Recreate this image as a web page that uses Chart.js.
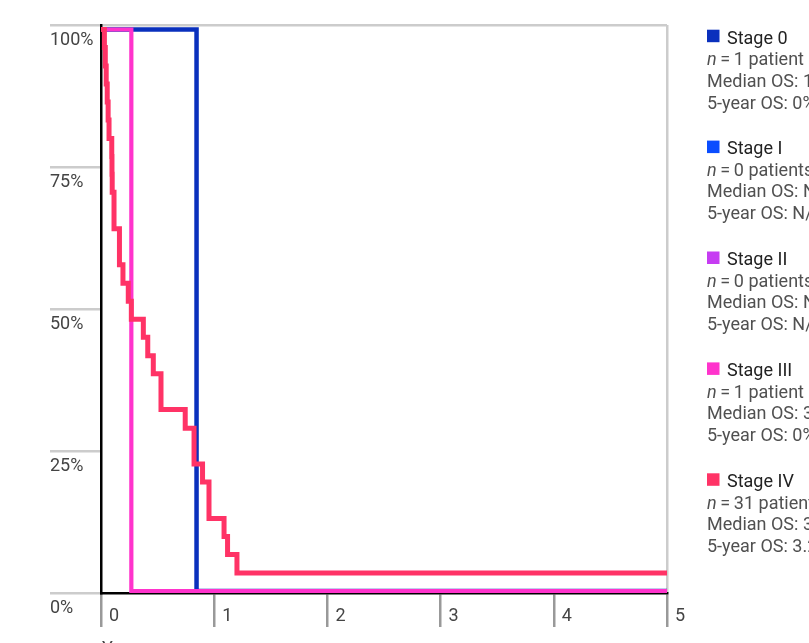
<!DOCTYPE html>
<html>
<head>
<meta charset="utf-8">
<script src="https://cdn.jsdelivr.net/npm/chart.js@4.4.0/dist/chart.umd.min.js"></script>
<style>
  html, body { margin: 0; padding: 0; background: #fff; overflow: hidden; }
  canvas { display: block; }
</style>
</head>
<body>
<canvas id="km" width="809" height="643"></canvas>
<script>
// Kaplan–Meier overall survival by stage (years since diagnosis, % surviving)
const stageLabels = ['Stage 0', 'Stage I', 'Stage II', 'Stage III', 'Stage IV'];
const stageColors = ['#0a30bd', '#0a4dff', '#c63cf2', '#ff33cc', '#ff3366'];
const patientCounts = ['1 patient', '0 patients', '0 patients', '1 patient', '31 patients'];
const medianOS = ['10.1 months', 'N/A', 'N/A', '3.2 months', '3.2 months'];
const fiveYearOS = ['0%', 'N/A', 'N/A', '0%', '3.2%'];

const stage0Years = [0, 0.844, 5];
const stage0Survival = [100, 0, 0];

const stage3Years = [0, 0.268, 5];
const stage3Survival = [100, 0, 0];

const stage4Years = [0, 0.030, 0.038, 0.046, 0.055, 0.063, 0.071, 0.095, 0.097, 0.099,
  0.115, 0.163, 0.194, 0.241, 0.268, 0.374, 0.413, 0.462, 0.530, 0.744,
  0.822, 0.897, 0.954, 1.087, 1.118, 1.201, 5];
const stage4Survival = [100, 96.8, 93.5, 90.3, 87.1, 83.9, 80.6, 77.4, 74.2, 71.0,
  64.5, 58.1, 54.8, 51.6, 48.4, 45.2, 41.9, 38.7, 32.3, 29.0,
  22.6, 19.4, 12.9, 9.7, 6.5, 3.2, 3.2];

const yearTicks = [0, 1, 2, 3, 4, 5];
const percentTicks = [0, 25, 50, 75, 100];
const xAxisTitle = 'Years';

Chart.defaults.font.family = 'Roboto';

function curve(label, years, survival, color, width, order) {
  return {
    label: label,
    data: years.map((t, i) => ({ x: t, y: survival[i] })),
    borderColor: color,
    backgroundColor: color,
    borderWidth: width,
    stepped: 'before',
    pointRadius: 0,
    pointHoverRadius: 0,
    fill: false,
    order: order,
    yAxisID: 'yData'
  };
}

// Right-hand legend with per-stage statistics
const stageLegend = {
  id: 'stageLegend',
  afterDraw(chart) {
    const ctx = chart.ctx;
    ctx.save();
    ctx.textBaseline = 'alphabetic';
    ctx.textAlign = 'left';
    for (let i = 0; i < stageLabels.length; i++) {
      const base = 43.5 + i * 110.9;
      ctx.fillStyle = stageColors[i];
      ctx.fillRect(707, base - 13.8, 12.5, 12.5);
      ctx.fillStyle = '#222';
      ctx.font = '18px Roboto';
      ctx.fillText(stageLabels[i], 727, base);

      ctx.fillStyle = '#505050';
      ctx.font = 'italic 18px Roboto';
      ctx.fillText('n', 707, base + 21.5);
      const nw = ctx.measureText('n').width;
      ctx.font = '18px Roboto';
      ctx.fillText('\u2009=\u2009' + patientCounts[i], 707 + nw, base + 21.5);
      ctx.fillText('Median OS: ' + medianOS[i], 707, base + 43);
      ctx.fillText('5-year OS: ' + fiveYearOS[i], 707, base + 65);
    }
    // x-axis title, mostly below the visible canvas
    ctx.fillStyle = '#444';
    ctx.font = '18px Roboto';
    ctx.fillText(xAxisTitle, 102, 654);
    ctx.restore();
  }
};

new Chart(document.getElementById('km'), {
  type: 'line',
  data: {
    datasets: [
      curve('Stage IV', stage4Years, stage4Survival, stageColors[4], 5, 0),
      curve('Stage III', stage3Years, stage3Survival, stageColors[3], 4.2, 1),
      curve('Stage 0', stage0Years, stage0Survival, stageColors[0], 4.5, 2)
    ]
  },
  options: {
    responsive: false,
    animation: false,
    devicePixelRatio: 1,
    events: [],
    layout: { padding: { left: 50, top: 25, right: 142, bottom: 0 } },
    plugins: { legend: { display: false }, tooltip: { enabled: false } },
    scales: {
      x: {
        type: 'linear',
        position: 'bottom',
        min: 0,
        max: 5,
        afterBuildTicks: s => { s.ticks = yearTicks.map(v => ({ value: v })); },
        ticks: {
          align: 'start',
          labelOffset: 8,
          padding: -21,
          color: '#444',
          font: { size: 18 },
          autoSkip: false,
          maxRotation: 0
        },
        grid: {
          drawOnChartArea: true,
          color: c => (c.tick && c.tick.value === 5) ? '#cccccc' : 'rgba(0,0,0,0)',
          lineWidth: 2.5,
          tickColor: '#999999',
          tickLength: 34,
          tickWidth: 2.5
        },
        border: { display: true, color: '#000', width: 2.5 },
        afterFit: s => { s.height = 50; }
      },
      y: {
        type: 'linear',
        position: 'left',
        min: 0,
        max: 100,
        afterBuildTicks: s => { s.ticks = percentTicks.map(v => ({ value: v })); },
        ticks: {
          crossAlign: 'far',
          labelOffset: 15.5,
          color: '#444',
          font: { size: 18 },
          callback: v => v + '%'
        },
        grid: {
          drawOnChartArea: true,
          color: c => (c.tick && c.tick.value === 100) ? '#cccccc' : 'rgba(0,0,0,0)',
          lineWidth: 2.5,
          tickColor: '#cccccc',
          tickLength: 51,
          tickWidth: 2.5
        },
        border: { display: true, color: '#000', width: 2.5 },
        afterFit: s => { s.width = 51; }
      },
      yData: {
        type: 'linear',
        display: false,
        min: -0.36,
        max: 100.8
      }
    }
  },
  plugins: [stageLegend]
});
</script>
</body>
</html>
